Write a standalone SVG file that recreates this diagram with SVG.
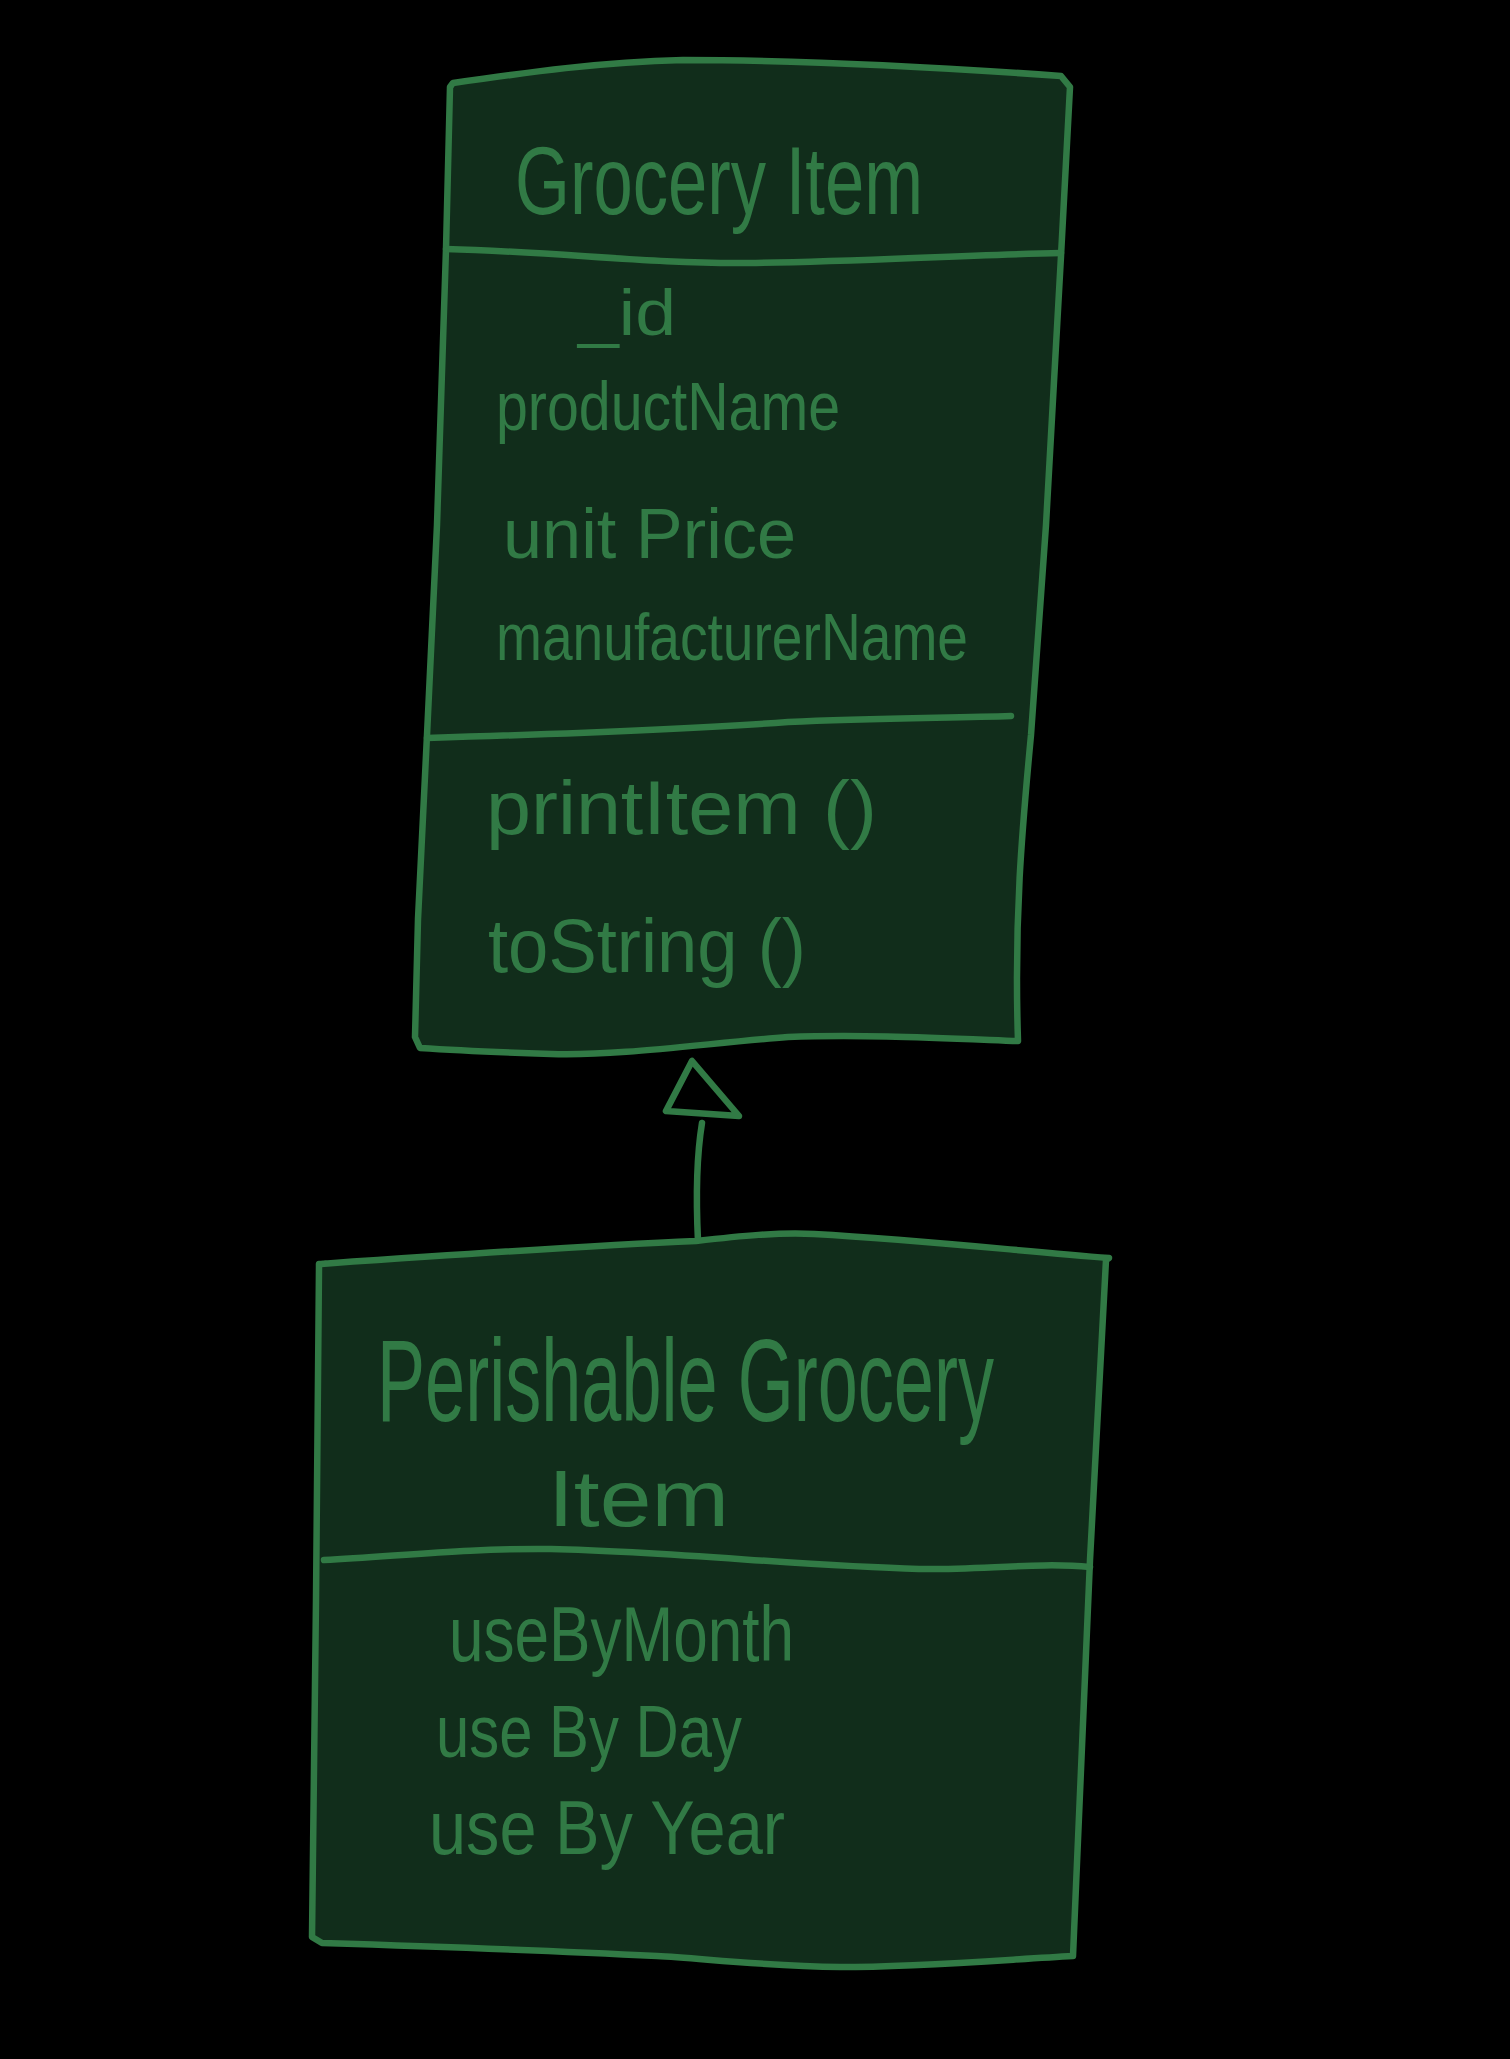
<svg xmlns="http://www.w3.org/2000/svg" width="1510" height="2059" viewBox="0 0 1510 2059">
<style>
.box{fill:#112d1b;stroke:#317a45;stroke-width:6.5;stroke-linecap:round;stroke-linejoin:round}
.ln{fill:none;stroke:#317a45;stroke-width:6.5;stroke-linecap:round;stroke-linejoin:round}
.t{fill:#317a45;font-family:"Liberation Sans","DejaVu Sans",sans-serif}
</style>
<rect width="1510" height="2059" fill="#000"/>
<g id="connectors">
<path class="ln" d="M702,1123 C696,1160 696,1200 698,1241"/>
<path class="ln" d="M692,1061 L666,1111 L739,1116 Z"/>
</g>
<g id="groceryItem">
<path class="box" d="M453,83 C530,72 600,62 683,60 C800,60 950,68 1061,76 L1070,87 L1061,256 L1046,525 L1031,735 C1022,830 1014,919 1018,1041 C940,1038 860,1034 788,1037 C700,1044 620,1056 551,1054 C490,1052 450,1050 420,1048 L415,1037 L418,919 L427,735 L437,525 L446,249 L450,87 Z"/>
<path class="ln" d="M446,249 C560,252 650,264 748,263 C850,262 960,255 1061,253"/>
<path class="ln" d="M427,738 C560,734 680,730 788,722 C870,718 950,718 1011,716"/>
<text class="t" x="515" y="214" font-size="96" textLength="408" lengthAdjust="spacingAndGlyphs">Grocery Item</text>
<text class="t" x="578" y="335" font-size="64" textLength="98" lengthAdjust="spacingAndGlyphs">_id</text>
<text class="t" x="496" y="430" font-size="68" textLength="344" lengthAdjust="spacingAndGlyphs">productName</text>
<text class="t" x="503" y="558" font-size="70" textLength="293" lengthAdjust="spacingAndGlyphs">unit Price</text>
<text class="t" x="496" y="660" font-size="66" textLength="472" lengthAdjust="spacingAndGlyphs">manufacturerName</text>
<text class="t" x="486" y="834" font-size="76" textLength="391" lengthAdjust="spacingAndGlyphs">printItem ()</text>
<text class="t" x="488" y="972" font-size="76" textLength="318" lengthAdjust="spacingAndGlyphs">toString ()</text>
</g>
<g id="perishableGroceryItem">
<path class="box" d="M319,1264 C450,1255 580,1246 696,1241 C740,1236 780,1232 814,1234 C920,1240 1010,1250 1109,1258 L1106,1260 L1090,1560 L1073,1956 C1000,1960 920,1967 840,1967 C760,1966 700,1958 657,1956 C540,1950 420,1946 322,1943 L312,1937 L316,1600 L319,1267 Z"/>
<path class="ln" d="M324,1560 C400,1556 470,1548 551,1549 C680,1552 800,1566 919,1569 C980,1570 1040,1562 1090,1567"/>
<text class="t" x="377" y="1421" font-size="116" textLength="617" lengthAdjust="spacingAndGlyphs">Perishable Grocery</text>
<text class="t" x="548" y="1526" font-size="80" textLength="181" lengthAdjust="spacingAndGlyphs">Item</text>
<text class="t" x="449" y="1661" font-size="78" textLength="345" lengthAdjust="spacingAndGlyphs">useByMonth</text>
<text class="t" x="436" y="1757" font-size="74" textLength="306" lengthAdjust="spacingAndGlyphs">use By Day</text>
<text class="t" x="429" y="1854" font-size="76" textLength="356" lengthAdjust="spacingAndGlyphs">use By Year</text>
</g>
</svg>
